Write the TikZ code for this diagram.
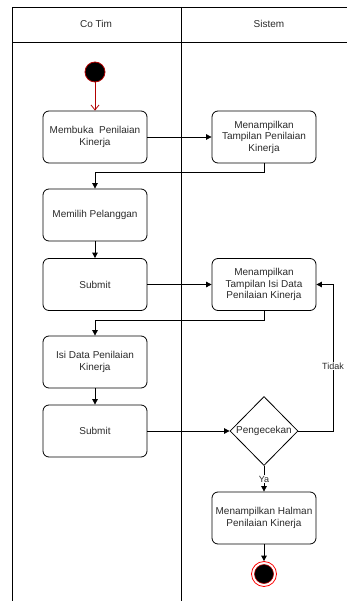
\documentclass[tikz,border=0pt]{standalone}
\usepackage{fontspec}
\setmainfont{Liberation Sans}
\usetikzlibrary{shapes.geometric,arrows.meta}
\definecolor{ink}{HTML}{2A2A2A}
\definecolor{startred}{HTML}{B20000}
\definecolor{endred}{HTML}{FF0000}

\begin{document}
\begin{tikzpicture}[x=1pt,y=-1pt,
  lane/.style={draw=black, line width=0.8pt},
  head/.style={font=\fontsize{10}{11.5}\selectfont, text=ink},
  act/.style={draw=black, rounded corners=6pt, minimum width=104pt, minimum height=52pt,
    inner sep=1pt, align=center, font=\fontsize{10}{11.5}\selectfont, text=ink, line width=0.8pt},
  flow/.style={draw=black, line width=0.8pt, -{Triangle[length=5.5pt,width=5.5pt]}},
  lbl/.style={fill=white, inner sep=1pt, font=\fontsize{9}{10}\selectfont, text=ink},
]
\useasboundingbox (0,0) rectangle (347,601);

% swimlane frame
\draw[lane] (12,601) -- (12,7) -- (347,7);
\draw[lane] (12,42) -- (347,42);
\draw[lane] (181,7) -- (181,601);
\node[head] (laneA) at (96,24) {Co Tim};
\node[head] (laneB) at (269,24) {Sistem};

% initial node
\node[circle, fill=black, draw=startred, line width=0.8pt, minimum size=20pt, inner sep=0] (start) at (95,72) {};

% actions
\node[act] (a1) at (95,137) {Membuka~~Penilaian\\Kinerja};
\node[act] (s1) at (264,137) {Menampilkan\\Tampilan Penilaian\\Kinerja};
\node[act] (a2) at (95,215) {Memilih Pelanggan};
\node[act] (a3) at (95,284.5) {Submit};
\node[act] (s2) at (264,284.5) {Menampilkan\\Tampilan Isi Data\\Penilaian Kinerja};
\node[act] (a4) at (95,362) {Isi Data Penilaian\\Kinerja};
\node[act] (a5) at (95,431) {Submit};
\node[act] (a6) at (264,518) {Menampilkan Halman\\Penilaian Kinerja};

% decision
\node[diamond, draw=black, line width=0.8pt, minimum width=68pt, minimum height=69pt, inner sep=0] (dec) at (264,431) {};
\node[font=\fontsize{10}{11.5}\selectfont, text=ink, inner sep=0] (decText) at (dec) {Pengecekan};

% final node
\node[circle, draw=endred, line width=0.8pt, minimum size=25pt, inner sep=0] (fin) at (264,574) {};
\node[circle, fill=black, draw=startred, line width=0.6pt, minimum size=19pt, inner sep=0] (finDot) at (fin) {};

% flows
\draw[startred, line width=0.8pt, -{Straight Barb[length=5pt,width=8pt]}] (start) -- (a1);
\draw[flow] (a1) -- (s1);
\draw[flow] (s1.south) -- ++(0,9) -| (a2.north);
\draw[flow] (a2) -- (a3);
\draw[flow] (a3) -- (s2);
\draw[flow] (s2.south) -- ++(0,9) -| (a4.north);
\draw[flow] (a4) -- (a5);
\draw[flow] (a5) -- (dec);
\coordinate (loop) at (333,431);
\draw[flow] (dec.east) -- (loop) |- (s2.east);
\node[lbl] (tidak) at (333,366) {Tidak};
\draw[flow] (dec.south) -- (a6.north);
\node[lbl] (ya) at (264,479) {Ya};
\draw[flow] (a6) -- (fin);
\end{tikzpicture}
\end{document}
